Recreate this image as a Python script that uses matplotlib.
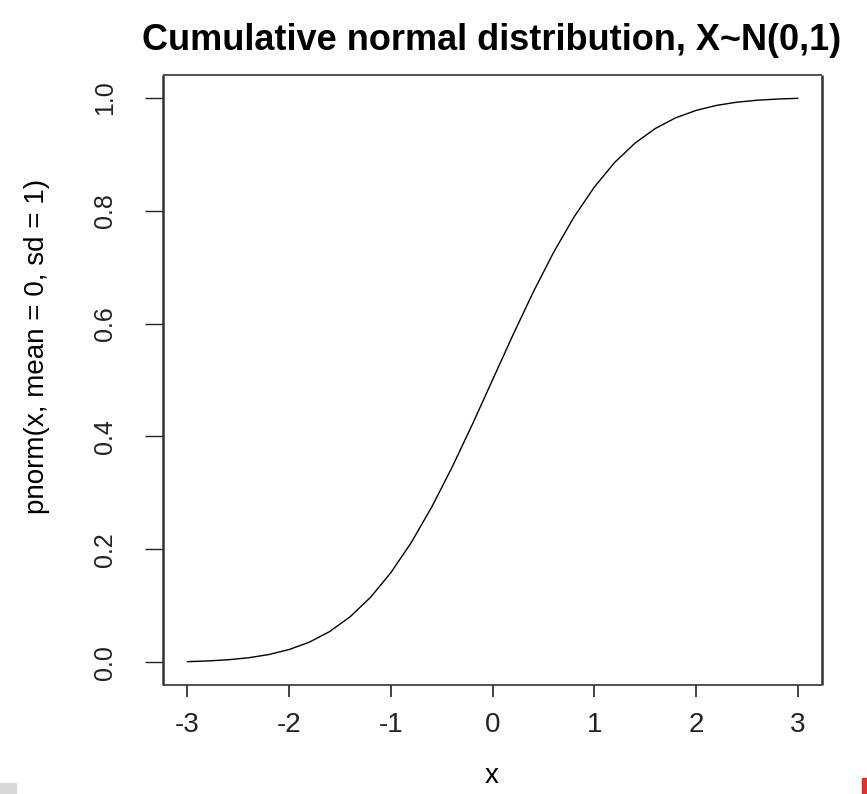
import matplotlib
matplotlib.use("Agg")
import matplotlib.pyplot as plt
from matplotlib.patches import Rectangle

# valores (x, pnorm)
x_vals = [-3.0, -2.8, -2.6, -2.4, -2.2, -2.0, -1.8, -1.6, -1.4, -1.2, -1.0,
          -0.8, -0.6, -0.4, -0.2, 0.0, 0.2, 0.4, 0.6, 0.8, 1.0,
          1.2, 1.4, 1.6, 1.8, 2.0, 2.2, 2.4, 2.6, 2.8, 3.0]
p_vals = [0.0013, 0.0026, 0.0047, 0.0082, 0.0139, 0.0228, 0.0359, 0.0548, 0.0808, 0.1151, 0.1587,
          0.2119, 0.2743, 0.3446, 0.4207, 0.5000, 0.5793, 0.6554, 0.7257, 0.7881, 0.8413,
          0.8849, 0.9192, 0.9452, 0.9641, 0.9772, 0.9861, 0.9918, 0.9953, 0.9974, 0.9987]
x_ticks = [-3, -2, -1, 0, 1, 2, 3]
y_ticks = [0.0, 0.2, 0.4, 0.6, 0.8, 1.0]

plt.rcParams['font.family'] = ['Liberation Sans', 'DejaVu Sans']

fig = plt.figure(figsize=(8.67, 7.94), dpi=100)
ax = fig.add_axes([163 / 867, 109 / 794, 659 / 867, 610 / 794])

ax.plot(x_vals, p_vals, color='black', linewidth=1.0)

ax.set_xlim(-3.24, 3.24)
ax.set_ylim(-0.04, 1.04)
ax.set_xticks(x_ticks)
ax.set_xticklabels([str(t) for t in x_ticks])
ax.set_yticks(y_ticks)
ax.set_yticklabels([f"{t:.1f}" for t in y_ticks], rotation=90, va='center')

#* Ticks: en la imagen los verticales salen mas largos que los horizontales
ax.tick_params(axis='x', direction='out', length=8.6, width=1.2, labelsize=20, pad=11,
               colors='#222222')
ax.tick_params(axis='y', direction='out', length=13, width=1.0, labelsize=18, pad=20,
               colors='#222222')
for nombre, s in ax.spines.items():
    s.set_color('#333333')
    s.set_linewidth(1.8 if nombre in ('left', 'right') else 1.2)
    s.set_capstyle('butt')

#* Textos
fig.text(492 / 867, 1 - 776 / 794, "x", ha='center', va='center', fontsize=20)
fig.text(37 / 867, 1 - 346 / 794, "pnorm(x, mean = 0, sd = 1)", ha='center', va='center',
         rotation=90, fontsize=20)
fig.text(492 / 867, 1 - 50 / 794, "Cumulative normal distribution, X~N(0,1)",
         ha='center', va='baseline', fontsize=26, fontweight='bold')

#* Marcas de los bordes de la captura
fig.patches.append(Rectangle((0, 0), 16 / 867, 11 / 794, transform=fig.transFigure,
                             color='#d9d9d9', zorder=0))
fig.patches.append(Rectangle((862 / 867, 0), 5 / 867, 16 / 794, transform=fig.transFigure,
                             color='#e03030', zorder=0))

fig.savefig("out.png", dpi=100)
